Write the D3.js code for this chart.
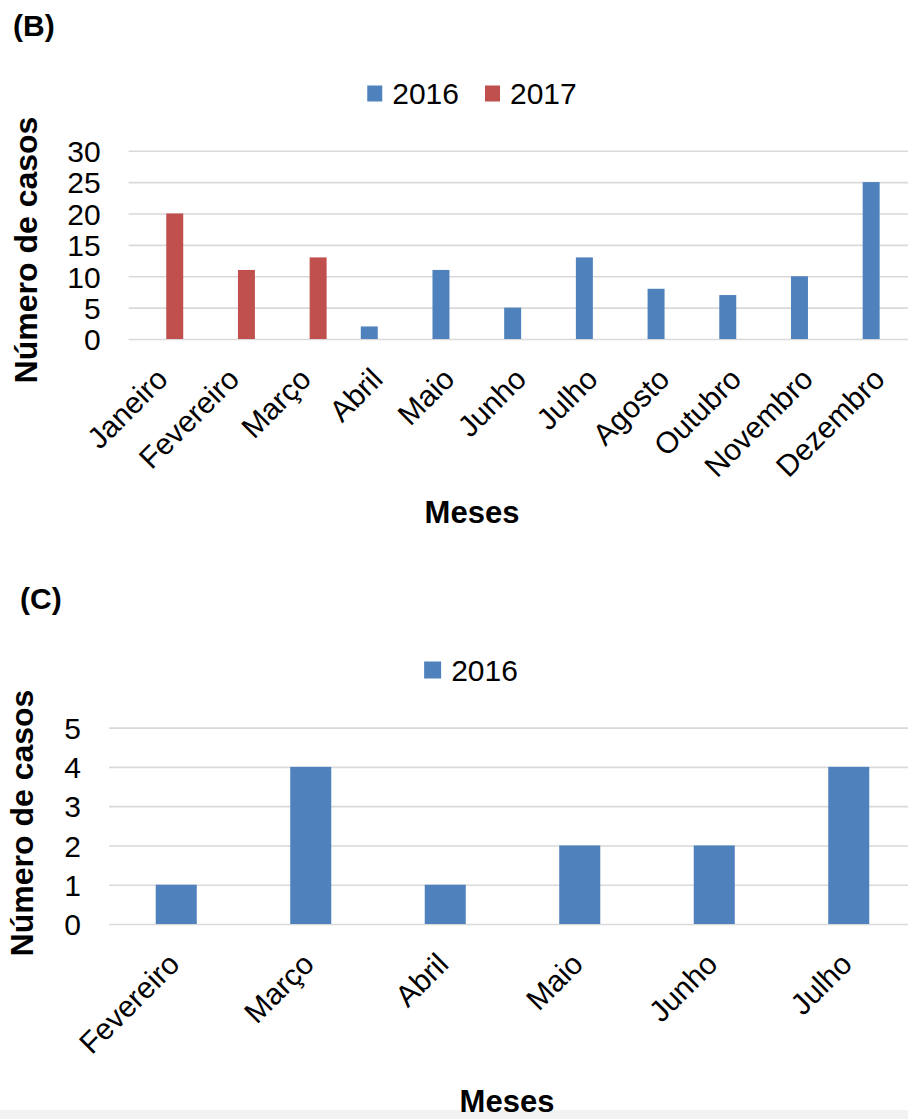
<!DOCTYPE html>
<html>
<head>
<meta charset="utf-8">
<script src="https://cdn.jsdelivr.net/npm/d3@7/dist/d3.min.js"></script>
<style>
  html, body { margin: 0; padding: 0; background: #ffffff; }
  svg { display: block; }
  text { font-family: "Liberation Sans", Arial, Helvetica, sans-serif; fill: #000; }
</style>
</head>
<body>
<svg id="chart" width="908" height="1119"></svg>
<script>
// Panel (B): monthly cases, 2016 and 2017
const monthsB = ["Janeiro", "Fevereiro", "Março", "Abril", "Maio", "Junho", "Julho", "Agosto", "Outubro", "Novembro", "Dezembro"];
const casesB2016 = [null, null, null, 2, 11, 5, 13, 8, 7, 10, 25];
const casesB2017 = [20, 11, 13, null, null, null, null, null, null, null, null];
const ticksB = [0, 5, 10, 15, 20, 25, 30];
const seriesB = ["2016", "2017"];

// Panel (C): monthly cases, 2016
const monthsC = ["Fevereiro", "Março", "Abril", "Maio", "Junho", "Julho"];
const casesC2016 = [1, 4, 1, 2, 2, 4];
const ticksC = [0, 1, 2, 3, 4, 5];
const seriesC = ["2016"];

const seriesColor = { "2016": "#4F81BD", "2017": "#C0504D" };

const svg = d3.select("#chart");

// thin grey strip along the bottom edge
svg.append("rect").attr("x", 0).attr("y", 1110).attr("width", 908).attr("height", 9).attr("fill", "#f2f2f2");

function drawPanel(cfg) {
  const g = svg.append("g");

  // panel letter
  g.append("text")
    .attr("x", cfg.letterX).attr("y", cfg.letterY)
    .style("font-size", "30px").style("font-weight", "bold")
    .text(cfg.letter);

  const x = d3.scaleBand()
    .domain(cfg.months)
    .range([cfg.left, cfg.right])
    .paddingInner(cfg.padInner).paddingOuter(cfg.padOuter);

  const xs = d3.scaleBand()
    .domain(cfg.series)
    .range([0, x.bandwidth()])
    .paddingInner(cfg.subPadInner).paddingOuter(cfg.subPadOuter);

  const y = d3.scaleLinear().domain([0, cfg.yMax]).range([cfg.bottom, cfg.top]);

  // gridlines
  const grid = g.append("g")
    .attr("transform", `translate(${cfg.left},0)`)
    .call(d3.axisLeft(y).tickValues(cfg.ticks).tickSize(-(cfg.right - cfg.left)).tickFormat(""));
  grid.select(".domain").remove();
  grid.selectAll("line").attr("stroke", "#d9d9d9").attr("stroke-width", 1.6);

  // y tick labels
  const ya = g.append("g")
    .attr("transform", `translate(${cfg.left - 28},0)`)
    .call(d3.axisLeft(y).tickValues(cfg.ticks).tickFormat(d3.format("d")).tickSize(0).tickPadding(0));
  ya.select(".domain").remove();
  ya.selectAll("text")
    .attr("x", 0).attr("dy", "0.36em")
    .style("font-size", "30px").style("font-family", "'Liberation Sans', Arial, sans-serif")
    .attr("fill", "#000");

  // bars
  cfg.series.forEach(s => {
    const vals = cfg.values[s];
    const data = cfg.months.map((m, i) => ({ m, v: vals[i] })).filter(d => d.v != null);
    g.append("g").selectAll("rect")
      .data(data)
      .join("rect")
      .attr("x", d => x(d.m) + xs(s))
      .attr("width", xs.bandwidth())
      .attr("y", d => y(d.v))
      .attr("height", d => y(0) - y(d.v))
      .attr("fill", seriesColor[s]);
  });

  // x tick labels, rotated
  const xa = g.append("g")
    .attr("transform", `translate(0,${cfg.bottom})`)
    .call(d3.axisBottom(x).tickSize(0).tickPadding(0));
  xa.select(".domain").remove();
  xa.selectAll("text")
    .attr("x", 0).attr("y", 0).attr("dy", null)
    .attr("text-anchor", "end")
    .attr("transform", `translate(5,${cfg.labelDrop}) rotate(-45)`)
    .style("font-size", "30px").style("font-family", "'Liberation Sans', Arial, sans-serif")
    .attr("fill", "#000");

  // y axis title
  g.append("text")
    .attr("transform", `translate(${cfg.yTitleX},${cfg.yTitleY}) rotate(-90)`)
    .attr("text-anchor", "middle")
    .style("font-size", "32px").style("font-weight", "bold")
    .text("Número de casos");

  // x axis title
  g.append("text")
    .attr("x", cfg.xTitleX).attr("y", cfg.xTitleY)
    .attr("text-anchor", "middle")
    .style("font-size", "31px").style("font-weight", "bold")
    .text("Meses");

  // legend, centred on legendCX
  const leg = g.append("g");
  const items = cfg.series.map(s => {
    const it = leg.append("g");
    it.append("rect").attr("width", cfg.swW).attr("height", cfg.swH).attr("fill", seriesColor[s]);
    const t = it.append("text").attr("x", cfg.swW + 10).style("font-size", "30px").text(s);
    return { it, w: cfg.swW + 10 + t.node().getComputedTextLength() };
  });
  const gap = 26;
  const total = d3.sum(items, d => d.w) + gap * (items.length - 1);
  let cx = cfg.legendCX - total / 2;
  items.forEach(d => {
    d.it.attr("transform", `translate(${cx},0)`);
    d.it.select("rect").attr("y", cfg.legendY - cfg.swH / 2);
    d.it.select("text").attr("y", cfg.legendY).attr("dy", "0.36em");
    cx += d.w + gap;
  });
}

drawPanel({
  letter: "(B)", letterX: 13, letterY: 36,
  months: monthsB, series: seriesB,
  values: { "2016": casesB2016, "2017": casesB2017 },
  ticks: ticksB, yMax: 30,
  left: 128.6, right: 917.3, top: 150.7, bottom: 339,
  padInner: 0, padOuter: 0,
  subPadInner: 0.175, subPadOuter: 0.83,
  labelDrop: 42,
  yTitleX: 37, yTitleY: 250,
  xTitleX: 472, xTitleY: 523,
  legendCX: 472, legendY: 93.5, swW: 15, swH: 16
});

drawPanel({
  letter: "(C)", letterX: 20, letterY: 609,
  months: monthsC, series: seriesC,
  values: { "2016": casesC2016 },
  ticks: ticksC, yMax: 5,
  left: 109, right: 916, top: 727.6, bottom: 924,
  padInner: 0.695, padOuter: 0.3475,
  subPadInner: 0, subPadOuter: 0,
  labelDrop: 42,
  yTitleX: 33, yTitleY: 823,
  xTitleX: 507, xTitleY: 1112,
  legendCX: 471, legendY: 670, swW: 17, swH: 17
});
</script>
</body>
</html>
